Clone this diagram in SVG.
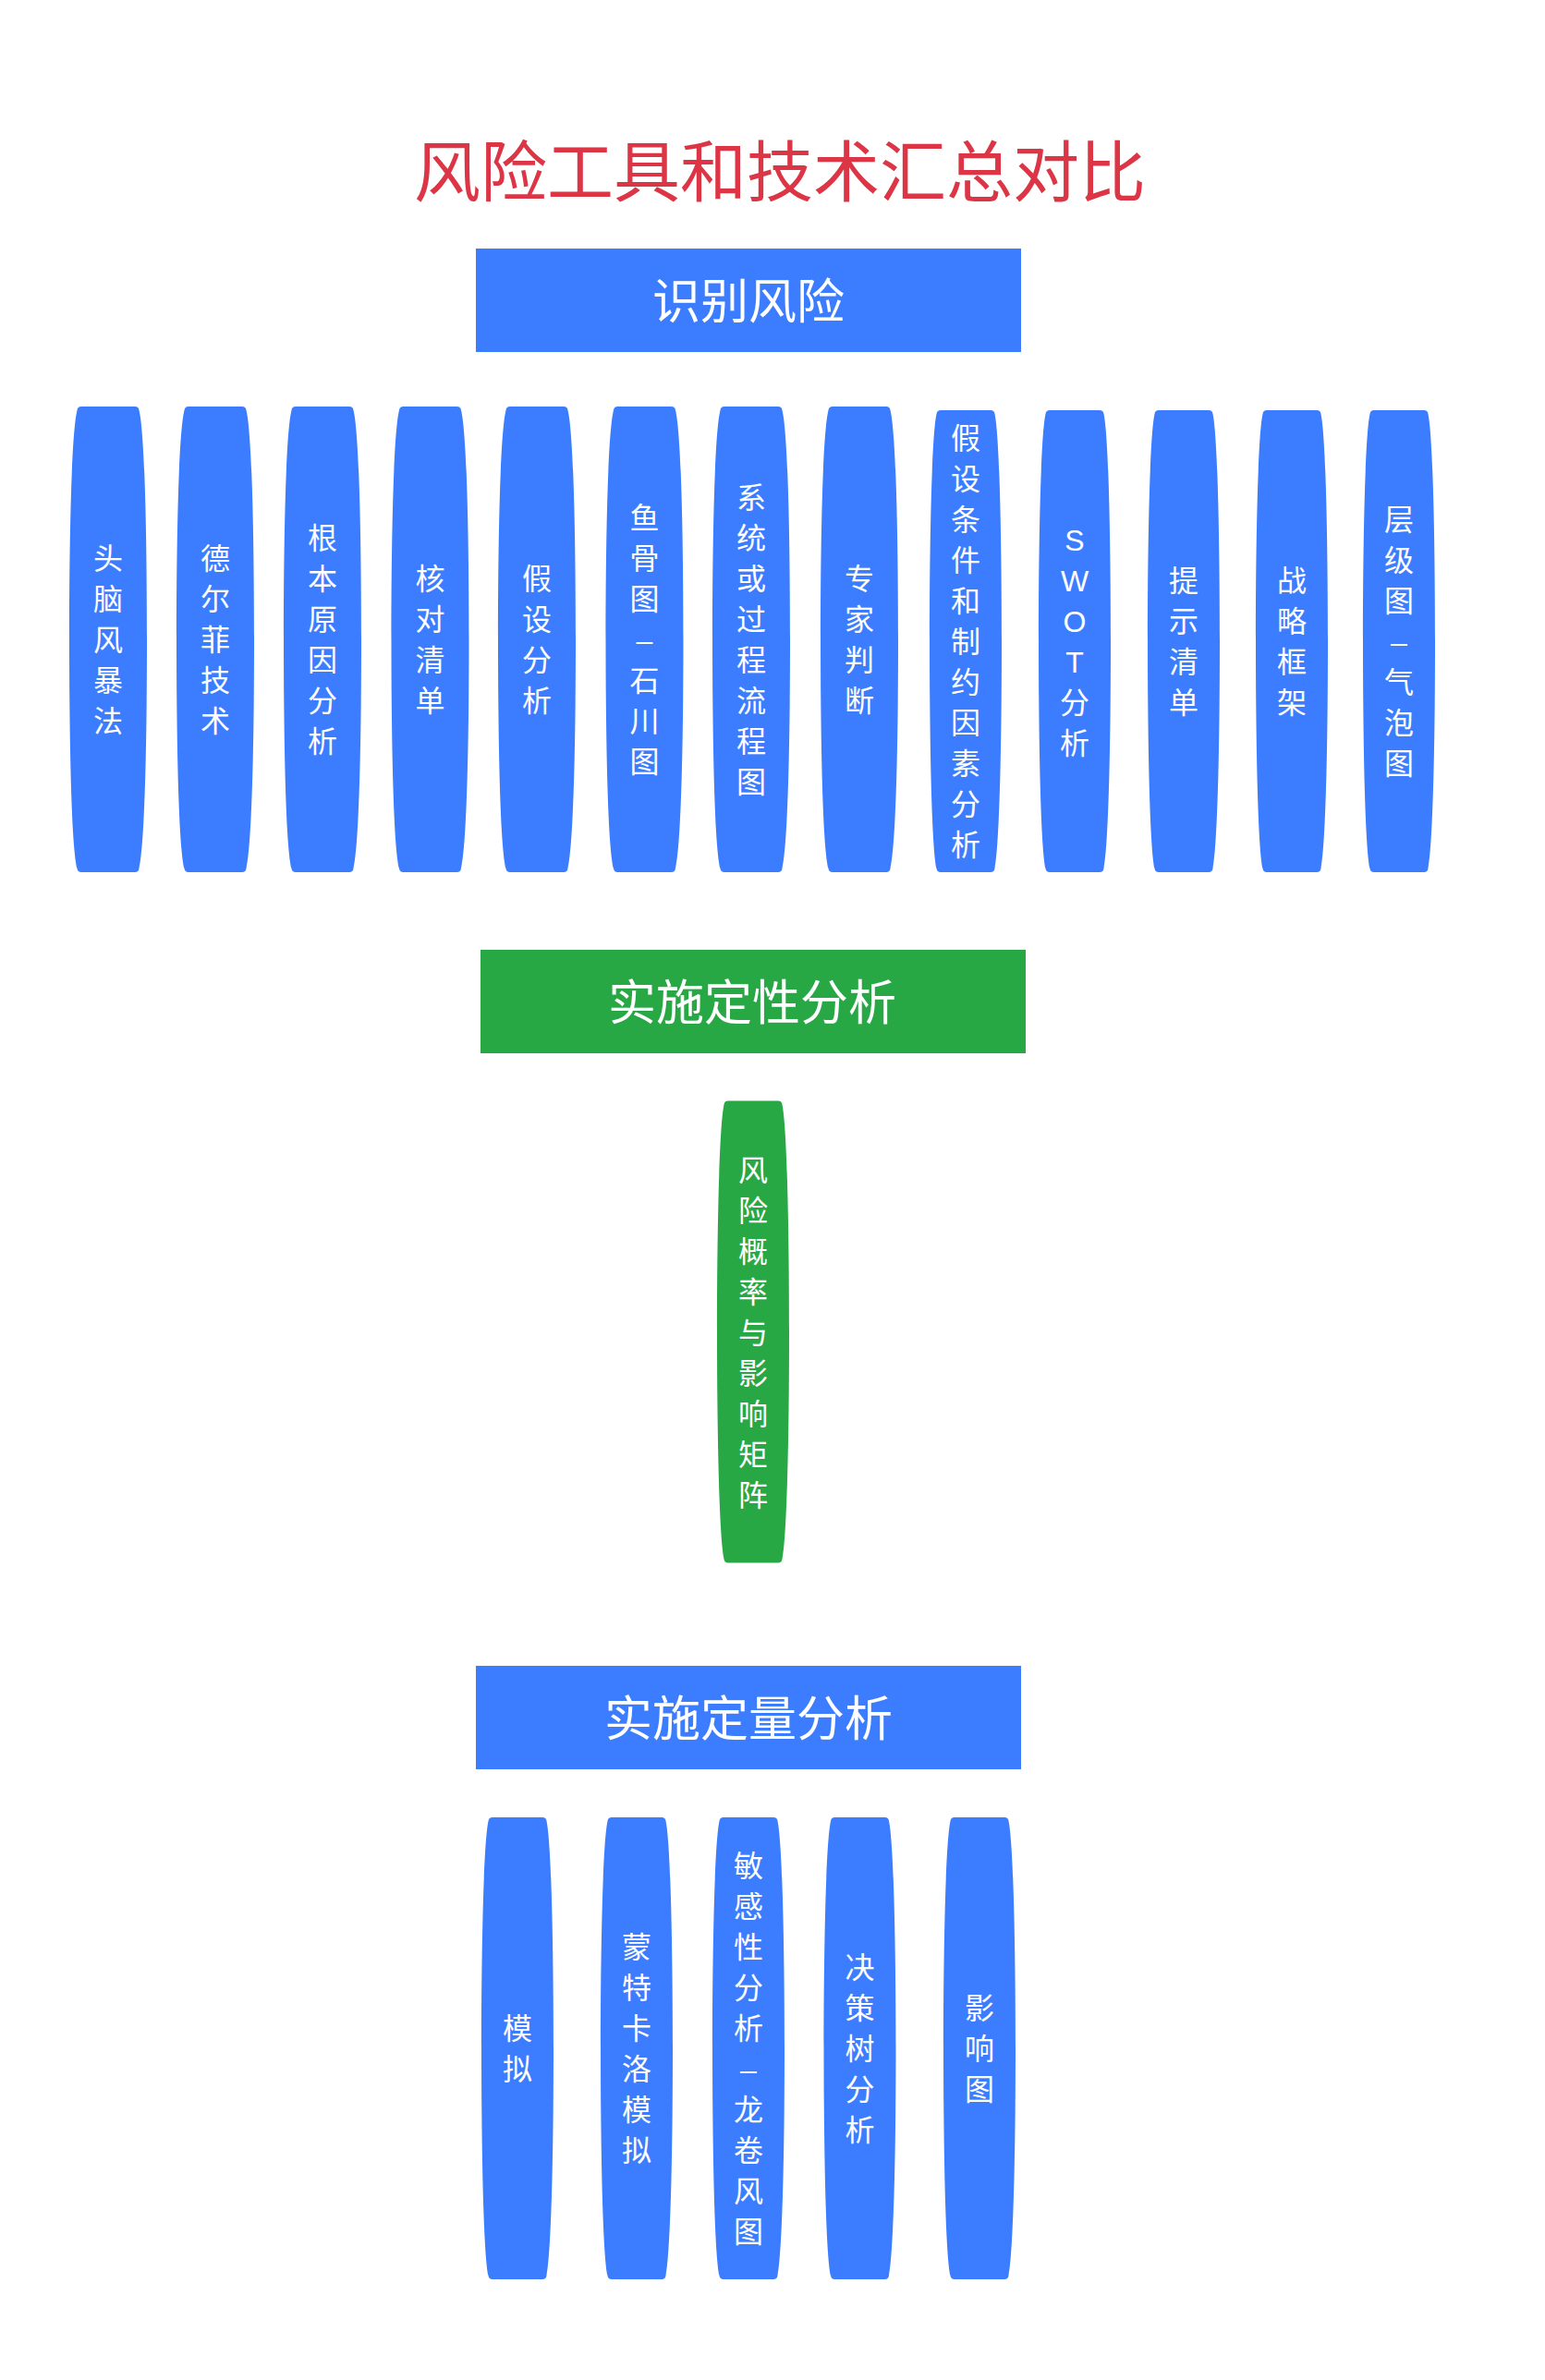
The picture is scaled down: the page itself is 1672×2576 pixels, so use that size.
<svg xmlns="http://www.w3.org/2000/svg" width="1672" height="2576" viewBox="0 0 1672 2576">
<defs>
<style>
.title{font-family:"Noto Sans CJK SC","Noto Sans",sans-serif;font-size:72px;fill:#dc3545;text-anchor:middle}
.sec{font-family:"Noto Sans CJK SC","Noto Sans",sans-serif;font-size:52px;fill:#ffffff;text-anchor:middle}
.lbl{font-family:"Liberation Sans","Noto Sans CJK SC",sans-serif;font-size:32px;fill:#ffffff;text-anchor:middle}
.blue{fill:#3c7dff}
.green{fill:#28a745}
</style>
<path id="pA" d="M -29,-252 L 29,-252 Q 33,-252 33.5,-248 C 40,-222 42,-102 42,0 C 42,102 40,222 33.5,248 Q 33,252 29,252 L -29,252 Q -33,252 -33.5,248 C -40,222 -42,102 -42,0 C -42,-102 -40,-222 -33.5,-248 Q -33,-252 -29,-252 Z"/>
<path id="pB" d="M -27,-250 L 27,-250 Q 31,-250 31.5,-246 C 37,-220 39,-100 39,0 C 39,100 37,220 31.5,246 Q 31,250 27,250 L -27,250 Q -31,250 -31.5,246 C -37,220 -39,100 -39,0 C -39,-100 -37,-220 -31.5,-246 Q -31,-250 -27,-250 Z"/>
</defs>
<rect width="1672" height="2576" fill="#ffffff"/>
<g id="title"><text class="title" x="844" y="212">风险工具和技术汇总对比</text></g>

<g id="sec-identify"><rect class="blue" x="515" y="269" width="590" height="112"/><text class="sec" x="810" y="345">识别风险</text></g>

<g id="n-brainstorm"><use href="#pA" class="blue" x="117" y="692"/><text class="lbl"><tspan x="117" y="616">头</tspan><tspan x="117" y="660">脑</tspan><tspan x="117" y="704">风</tspan><tspan x="117" y="748">暴</tspan><tspan x="117" y="792">法</tspan></text></g>
<g id="n-delphi"><use href="#pA" class="blue" x="233" y="692"/><text class="lbl"><tspan x="233" y="616">德</tspan><tspan x="233" y="660">尔</tspan><tspan x="233" y="704">菲</tspan><tspan x="233" y="748">技</tspan><tspan x="233" y="792">术</tspan></text></g>
<g id="n-rootcause"><use href="#pA" class="blue" x="349" y="692"/><text class="lbl"><tspan x="349" y="594">根</tspan><tspan x="349" y="638">本</tspan><tspan x="349" y="682">原</tspan><tspan x="349" y="726">因</tspan><tspan x="349" y="770">分</tspan><tspan x="349" y="814">析</tspan></text></g>
<g id="n-checklist"><use href="#pA" class="blue" x="465.5" y="692"/><text class="lbl"><tspan x="465.5" y="638">核</tspan><tspan x="465.5" y="682">对</tspan><tspan x="465.5" y="726">清</tspan><tspan x="465.5" y="770">单</tspan></text></g>
<g id="n-assumption"><use href="#pA" class="blue" x="581" y="692"/><text class="lbl"><tspan x="581" y="638">假</tspan><tspan x="581" y="682">设</tspan><tspan x="581" y="726">分</tspan><tspan x="581" y="770">析</tspan></text></g>
<g id="n-fishbone"><use href="#pA" class="blue" x="697.5" y="692"/><text class="lbl"><tspan x="697.5" y="572">鱼</tspan><tspan x="697.5" y="616">骨</tspan><tspan x="697.5" y="660">图</tspan><tspan x="697.5" y="704">–</tspan><tspan x="697.5" y="748">石</tspan><tspan x="697.5" y="792">川</tspan><tspan x="697.5" y="836">图</tspan></text></g>
<g id="n-flowchart"><use href="#pA" class="blue" x="813" y="692"/><text class="lbl"><tspan x="813" y="550">系</tspan><tspan x="813" y="594">统</tspan><tspan x="813" y="638">或</tspan><tspan x="813" y="682">过</tspan><tspan x="813" y="726">程</tspan><tspan x="813" y="770">流</tspan><tspan x="813" y="814">程</tspan><tspan x="813" y="858">图</tspan></text></g>
<g id="n-expert"><use href="#pA" class="blue" x="930" y="692"/><text class="lbl"><tspan x="930" y="638">专</tspan><tspan x="930" y="682">家</tspan><tspan x="930" y="726">判</tspan><tspan x="930" y="770">断</tspan></text></g>
<g id="n-constraint"><use href="#pB" class="blue" x="1045" y="694"/><text class="lbl"><tspan x="1045" y="486">假</tspan><tspan x="1045" y="530">设</tspan><tspan x="1045" y="574">条</tspan><tspan x="1045" y="618">件</tspan><tspan x="1045" y="662">和</tspan><tspan x="1045" y="706">制</tspan><tspan x="1045" y="750">约</tspan><tspan x="1045" y="794">因</tspan><tspan x="1045" y="838">素</tspan><tspan x="1045" y="882">分</tspan><tspan x="1045" y="926">析</tspan></text></g>
<g id="n-swot"><use href="#pB" class="blue" x="1163" y="694"/><text class="lbl"><tspan x="1163" y="596">S</tspan><tspan x="1163" y="640">W</tspan><tspan x="1163" y="684">O</tspan><tspan x="1163" y="728">T</tspan><tspan x="1163" y="772">分</tspan><tspan x="1163" y="816">析</tspan></text></g>
<g id="n-prompt"><use href="#pB" class="blue" x="1281" y="694"/><text class="lbl"><tspan x="1281" y="640">提</tspan><tspan x="1281" y="684">示</tspan><tspan x="1281" y="728">清</tspan><tspan x="1281" y="772">单</tspan></text></g>
<g id="n-strategy"><use href="#pB" class="blue" x="1398" y="694"/><text class="lbl"><tspan x="1398" y="640">战</tspan><tspan x="1398" y="684">略</tspan><tspan x="1398" y="728">框</tspan><tspan x="1398" y="772">架</tspan></text></g>
<g id="n-bubble"><use href="#pB" class="blue" x="1514" y="694"/><text class="lbl"><tspan x="1514" y="574">层</tspan><tspan x="1514" y="618">级</tspan><tspan x="1514" y="662">图</tspan><tspan x="1514" y="706">–</tspan><tspan x="1514" y="750">气</tspan><tspan x="1514" y="794">泡</tspan><tspan x="1514" y="838">图</tspan></text></g>

<g id="sec-qualitative"><rect class="green" x="520" y="1028" width="590" height="112"/><text class="sec" x="814" y="1104">实施定性分析</text></g>
<g id="n-matrix"><use href="#pB" class="green" x="815" y="1441.5"/><text class="lbl"><tspan x="815" y="1277.5">风</tspan><tspan x="815" y="1321.5">险</tspan><tspan x="815" y="1365.5">概</tspan><tspan x="815" y="1409.5">率</tspan><tspan x="815" y="1453.5">与</tspan><tspan x="815" y="1497.5">影</tspan><tspan x="815" y="1541.5">响</tspan><tspan x="815" y="1585.5">矩</tspan><tspan x="815" y="1629.5">阵</tspan></text></g>

<g id="sec-quantitative"><rect class="blue" x="515" y="1803" width="590" height="112"/><text class="sec" x="810" y="1879">实施定量分析</text></g>
<g id="n-simulation"><use href="#pB" class="blue" x="560" y="2217"/><text class="lbl"><tspan x="560" y="2207">模</tspan><tspan x="560" y="2251">拟</tspan></text></g>
<g id="n-montecarlo"><use href="#pB" class="blue" x="689" y="2217"/><text class="lbl"><tspan x="689" y="2119">蒙</tspan><tspan x="689" y="2163">特</tspan><tspan x="689" y="2207">卡</tspan><tspan x="689" y="2251">洛</tspan><tspan x="689" y="2295">模</tspan><tspan x="689" y="2339">拟</tspan></text></g>
<g id="n-sensitivity"><use href="#pB" class="blue" x="810" y="2217"/><text class="lbl"><tspan x="810" y="2031">敏</tspan><tspan x="810" y="2075">感</tspan><tspan x="810" y="2119">性</tspan><tspan x="810" y="2163">分</tspan><tspan x="810" y="2207">析</tspan><tspan x="810" y="2251">–</tspan><tspan x="810" y="2295">龙</tspan><tspan x="810" y="2339">卷</tspan><tspan x="810" y="2383">风</tspan><tspan x="810" y="2427">图</tspan></text></g>
<g id="n-decisiontree"><use href="#pB" class="blue" x="930.5" y="2217"/><text class="lbl"><tspan x="930.5" y="2141">决</tspan><tspan x="930.5" y="2185">策</tspan><tspan x="930.5" y="2229">树</tspan><tspan x="930.5" y="2273">分</tspan><tspan x="930.5" y="2317">析</tspan></text></g>
<g id="n-influence"><use href="#pB" class="blue" x="1060" y="2217"/><text class="lbl"><tspan x="1060" y="2185">影</tspan><tspan x="1060" y="2229">响</tspan><tspan x="1060" y="2273">图</tspan></text></g>

<g id="connectors"/>
</svg>
